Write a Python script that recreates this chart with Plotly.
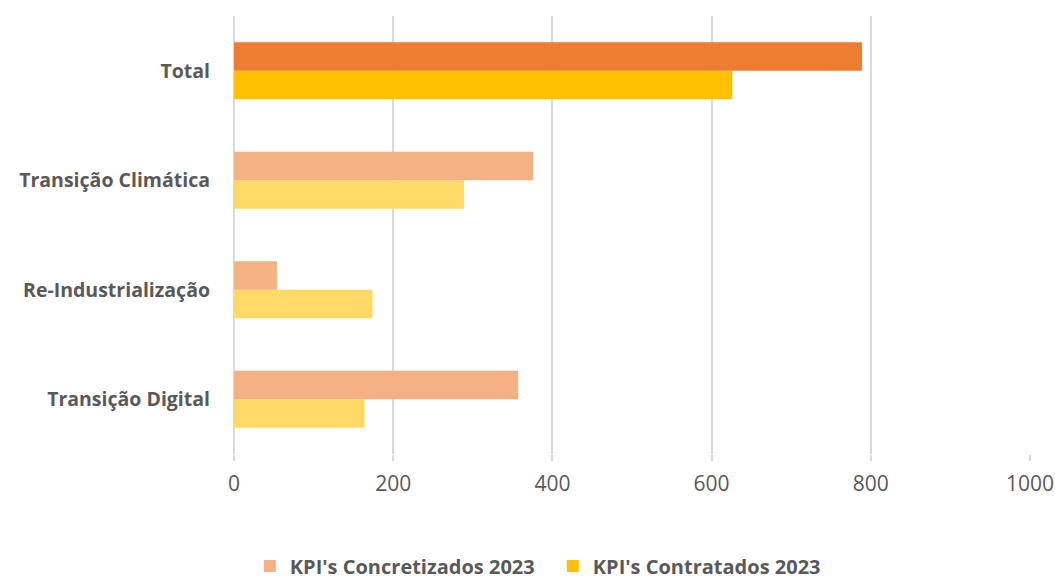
import plotly.graph_objects as go

categories = ["Transição Digital", "Re-Industrialização", "Transição Climática", "Total"]
concretizados = [357, 54, 376, 789]
contratados = [164, 174, 289, 626]

conc_colors = ["#F4B183", "#F4B183", "#F4B183", "#ED7D31"]
cont_colors = ["#FFD966", "#FFD966", "#FFD966", "#FFC000"]

# Contratados listed from Total first so the legend swatch takes the darker colour
rev = list(range(len(categories)))[::-1]

fig = go.Figure()
fig.add_trace(go.Bar(
    name="KPI's Contratados 2023",
    y=[categories[i] for i in rev],
    x=[contratados[i] for i in rev],
    orientation="h",
    marker=dict(color=[cont_colors[i] for i in rev], line=dict(width=0)),
    legendrank=2,
    hoverinfo="x+y",
))
fig.add_trace(go.Bar(
    name="KPI's Concretizados 2023",
    y=categories,
    x=concretizados,
    orientation="h",
    marker=dict(color=conc_colors, line=dict(width=0)),
    legendrank=1,
    hoverinfo="x+y",
))

font_family = "Open Sans, Liberation Sans, sans-serif"

fig.update_layout(
    width=1055, height=579,
    barmode="group",
    bargap=0.48,
    bargroupgap=0,
    plot_bgcolor="white",
    paper_bgcolor="white",
    margin=dict(l=234, r=25, t=16, b=125),
    font=dict(family=font_family, color="#595959"),
    showlegend=True,
    legend=dict(
        orientation="h",
        xref="container", yref="container",
        x=0.524, xanchor="center",
        y=1 - 566 / 579, yanchor="middle",
        font=dict(size=20, color="#595959", family=font_family, weight="bold"),
        itemwidth=30,
        entrywidth=258,
        traceorder="normal",
    ),
    xaxis=dict(
        range=[0, 1000],
        tickvals=[0, 200, 400, 600, 800, 1000],
        showgrid=True, gridcolor="#D9D9D9", gridwidth=2,
        zeroline=True, zerolinecolor="#D9D9D9", zerolinewidth=2,
        showline=False,
        ticks="outside", ticklen=6, tickcolor="#D9D9D9", tickwidth=2,
        ticklabelstandoff=5,
        tickfont=dict(size=21, color="#595959", family=font_family),
        automargin=False,
        fixedrange=True,
    ),
    yaxis=dict(
        categoryorder="array",
        categoryarray=categories,
        showgrid=False,
        showline=False,
        ticks="",
        ticklabelstandoff=23,
        tickfont=dict(size=19.5, color="#595959", family=font_family, weight="bold"),
        automargin=False,
        fixedrange=True,
    ),
)

fig.write_html("out.html", config={"displayModeBar": False},
               post_script="document.body.style.margin='0px';")
